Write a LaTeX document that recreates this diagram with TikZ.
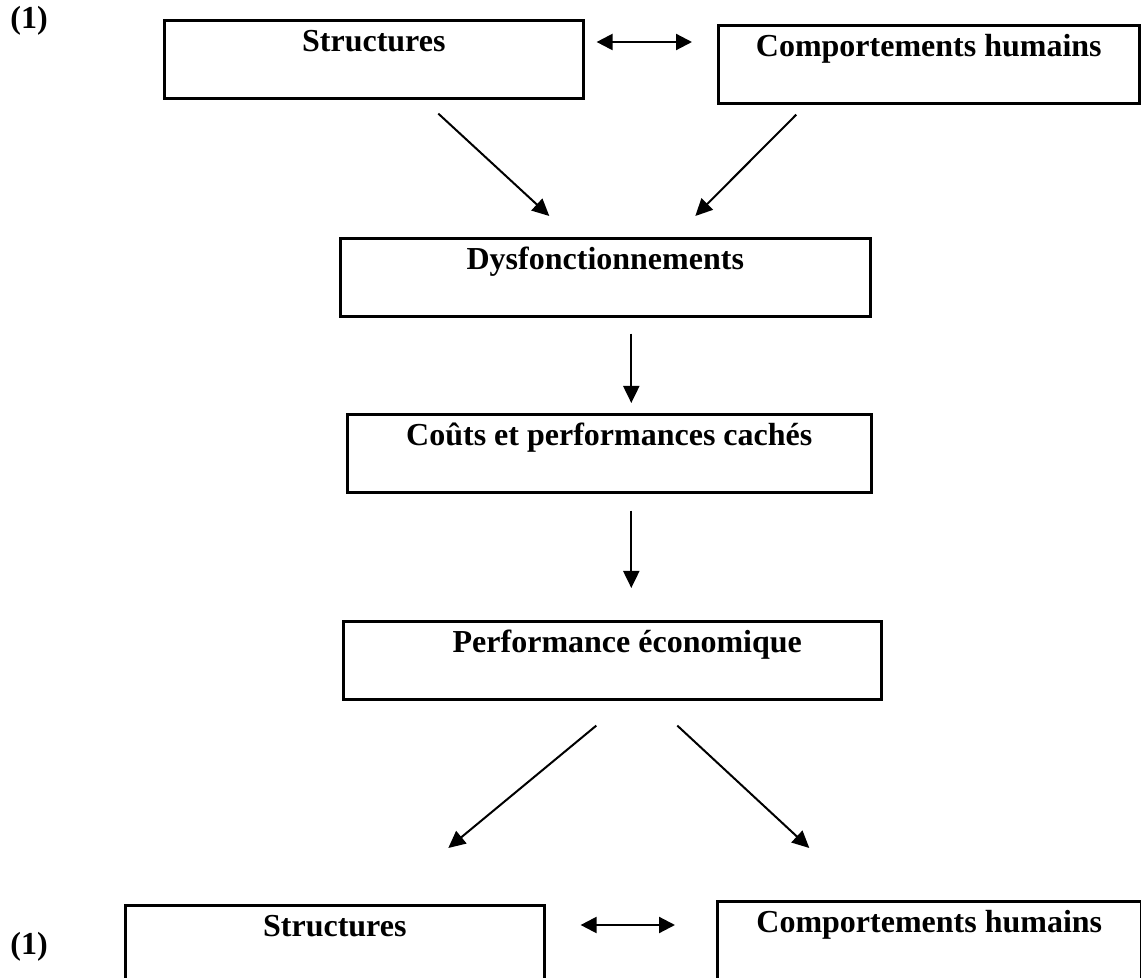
\documentclass[tikz,border=0pt]{standalone}
\usepackage{fontspec}
\setmainfont{Liberation Serif}
\usetikzlibrary{arrows.meta,calc}
\begin{document}
\begin{tikzpicture}[x=0.5pt,y=-0.5pt,
  box/.style={draw, line width=1.3pt, anchor=north west, inner sep=0pt, minimum height=39pt,
    text height=15.5pt, text depth=23.5pt, font=\fontsize{16}{19}\selectfont\bfseries},
  num/.style={font=\fontsize{16}{19}\selectfont\bfseries},
  arr/.style={line width=1pt, -{Triangle[length=8.5pt,width=8pt]}},
  darr/.style={line width=1.1pt, {Triangle[length=8pt,width=8pt]}-{Triangle[length=8pt,width=8pt]}}]
\clip (0,0) rectangle (1141,978);
\node[num] (n1) at (29,21) {(1)};
\node[num] (n2) at (29,947) {(1)};
\node[box, minimum width=209.5pt] (s1) at (163,19) {Structures};
\node[box, minimum width=210.5pt] (c1) at (717,24) {Comportements humains};
\node[box, minimum width=265pt] (d) at (339,237) {Dysfonctionnements};
\node[box, minimum width=262pt] (k) at (346,413) {Coûts et performances cachés};
\node[box, minimum width=269pt] (p) at (342,620) {\hspace*{15pt}Performance économique};
\node[box, minimum width=209.5pt] (s2) at (124,904) {Structures};
\node[box, minimum width=212pt] (c2) at (716,900) {Comportements humains};
\draw[darr] ($(s1.north east)+(12,23)$) -- ($(c1.north west)+(-25,18)$);
\draw[arr] ($(s1.south)+(64.5,14)$) -- ($(d.north)+(-56,-21)$);
\draw[arr] ($(c1.south)+(-132.5,10)$) -- ($(d.north)+(90,-21)$);
\draw[arr] ($(d.south)+(26,16)$) -- ($(k.north)+(22,-10)$);
\draw[arr] ($(k.south)+(22,17)$) -- ($(p.north)+(19,-32)$);
\draw[arr] ($(p.south)+(-16,25)$) -- ($(s2.north)+(113.5,-56)$);
\draw[arr] ($(p.south)+(65,25)$) -- ($(c2.north)+(-120,-52)$);
\draw[darr] ($(s2.north east)+(35,21)$) -- ($(c2.north west)+(-41,25)$);
\end{tikzpicture}
\end{document}
